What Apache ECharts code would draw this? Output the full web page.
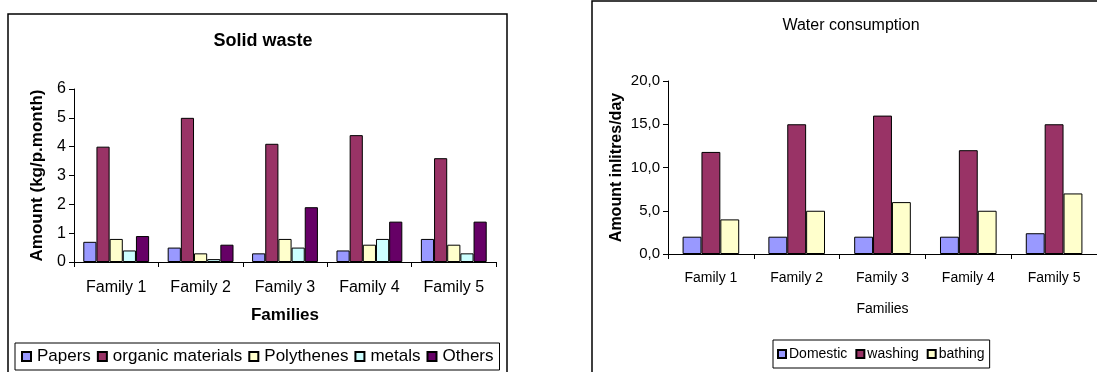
<!DOCTYPE html>
<html>
<head>
<meta charset="utf-8">
<script src="https://cdn.jsdelivr.net/npm/echarts@6/dist/echarts.min.js"></script>
<style>
  html, body { margin: 0; padding: 0; background: #fff; }
  #chart { width: 1097px; height: 372px; }
</style>
</head>
<body>
<div id="chart"></div>
<script>
// Categories shared by both panels
const families = ['Family 1', 'Family 2', 'Family 3', 'Family 4', 'Family 5'];

// Solid waste (kg per person per month)
const papers      = [0.7, 0.5, 0.3, 0.4, 0.8];
const organic     = [4.0, 5.0, 4.1, 4.4, 3.6];
const polythenes  = [0.8, 0.3, 0.8, 0.6, 0.6];
const metals      = [0.4, 0.1, 0.5, 0.8, 0.3];
const others      = [0.9, 0.6, 1.9, 1.4, 1.4];
const wasteTicks  = { min: 0, max: 6, interval: 1 };

// Water consumption (litres per day)
const domestic    = [2.0, 2.0, 2.0, 2.0, 2.4];
const washing     = [11.8, 15.0, 16.0, 12.0, 15.0];
const bathing     = [4.0, 5.0, 6.0, 5.0, 7.0];
const waterTicks  = { min: 0, max: 20, interval: 5 };

const SANS = '"Liberation Sans", Arial, sans-serif';

const chart = echarts.init(document.getElementById('chart'), null, { renderer: 'canvas' });

function barSeries(name, data, color, axisIdx) {
  return {
    name, type: 'bar', data,
    xAxisIndex: axisIdx, yAxisIndex: axisIdx,
    barGap: '0%',
    barCategoryGap: axisIdx === 0 ? '22%' : '34%',
    itemStyle: { color, borderColor: '#000', borderWidth: 1 },
    emphasis: { disabled: true },
    animation: false
  };
}

const axisLineStyle = { lineStyle: { color: '#000', width: 1 } };

chart.setOption({
  animation: false,
  graphic: [
    { type: 'rect', shape: { x: 8, y: 14, width: 499, height: 400 },
      style: { fill: 'none', stroke: '#000', lineWidth: 1.5 }, silent: true },
    { type: 'rect', shape: { x: 592, y: 1, width: 600, height: 400 },
      style: { fill: 'none', stroke: '#000', lineWidth: 1.5 }, silent: true }
  ],
  title: [
    { text: 'Solid waste', left: 258, top: 27, textAlign: 'center',
      textStyle: { fontFamily: SANS, fontWeight: 'bold', fontSize: 18, color: '#000' } },
    { text: 'Water consumption', left: 846, top: 13, textAlign: 'center',
      textStyle: { fontFamily: SANS, fontWeight: 'normal', fontSize: 16, color: '#000' } }
  ],
  legend: [
    {
      data: ['Papers', 'organic materials', 'Polythenes', 'metals', 'Others'],
      left: 15, top: 343,
      padding: [5, 6, 5, 6],
      itemGap: 6, itemWidth: 9, itemHeight: 9, icon: 'rect',
      borderColor: '#000', borderWidth: 1,
      textStyle: { fontFamily: SANS, fontSize: 17, color: '#000', padding: [0, 0, 0, 1] }
    },
    {
      data: ['Domestic', 'washing', 'bathing'],
      left: 773, top: 340,
      padding: [7, 5, 7, 4],
      itemGap: 8, itemWidth: 8, itemHeight: 8, icon: 'rect',
      borderColor: '#000', borderWidth: 1,
      textStyle: { fontFamily: SANS, fontSize: 14, color: '#000', padding: [0, 0, 0, -2] }
    }
  ],
  grid: [
    { left: 74, top: 89, width: 422, height: 173 },
    { left: 668, top: 81, width: 431, height: 173 }
  ],
  xAxis: [
    {
      gridIndex: 0, type: 'category', data: families,
      name: 'Families', nameLocation: 'middle', nameGap: 45,
      nameTextStyle: { fontFamily: SANS, fontWeight: 'bold', fontSize: 17, color: '#000' },
      axisLine: axisLineStyle,
      axisTick: { show: true, length: 5, lineStyle: { color: '#000' } },
      axisLabel: { fontFamily: SANS, fontSize: 16, color: '#000', margin: 18 }
    },
    {
      gridIndex: 1, type: 'category', data: families,
      name: 'Families', nameLocation: 'middle', nameGap: 48,
      nameTextStyle: { fontFamily: SANS, fontSize: 14, color: '#000' },
      axisLine: axisLineStyle,
      axisTick: { show: true, length: 5, lineStyle: { color: '#000' } },
      axisLabel: { fontFamily: SANS, fontSize: 14, color: '#000', margin: 17 }
    }
  ],
  yAxis: [
    {
      gridIndex: 0, type: 'value',
      min: wasteTicks.min, max: wasteTicks.max, interval: wasteTicks.interval,
      name: 'Amount (kg/p.month)', nameLocation: 'middle', nameGap: 28,
      nameTextStyle: { fontFamily: SANS, fontWeight: 'bold', fontSize: 17, color: '#000' },
      axisLine: { show: true, lineStyle: { color: '#000' } },
      axisTick: { show: true, length: 5, lineStyle: { color: '#000' } },
      axisLabel: { fontFamily: SANS, fontSize: 16, color: '#000', margin: 8 },
      splitLine: { show: false }
    },
    {
      gridIndex: 1, type: 'value',
      min: waterTicks.min, max: waterTicks.max, interval: waterTicks.interval,
      name: 'Amount inlitres/day', nameLocation: 'middle', nameGap: 43,
      nameTextStyle: { fontFamily: SANS, fontWeight: 'bold', fontSize: 16, color: '#000' },
      axisLine: { show: true, lineStyle: { color: '#000' } },
      axisTick: { show: true, length: 5, lineStyle: { color: '#000' } },
      axisLabel: {
        fontFamily: SANS, fontSize: 15, color: '#000', margin: 8,
        formatter: v => v.toFixed(1).replace('.', ',')
      },
      splitLine: { show: false }
    }
  ],
  series: [
    barSeries('Papers', papers, '#9999FF', 0),
    barSeries('organic materials', organic, '#993366', 0),
    barSeries('Polythenes', polythenes, '#FFFFCC', 0),
    barSeries('metals', metals, '#CCFFFF', 0),
    barSeries('Others', others, '#660066', 0),
    barSeries('Domestic', domestic, '#9999FF', 1),
    barSeries('washing', washing, '#993366', 1),
    barSeries('bathing', bathing, '#FFFFCC', 1)
  ]
});
</script>
</body>
</html>
